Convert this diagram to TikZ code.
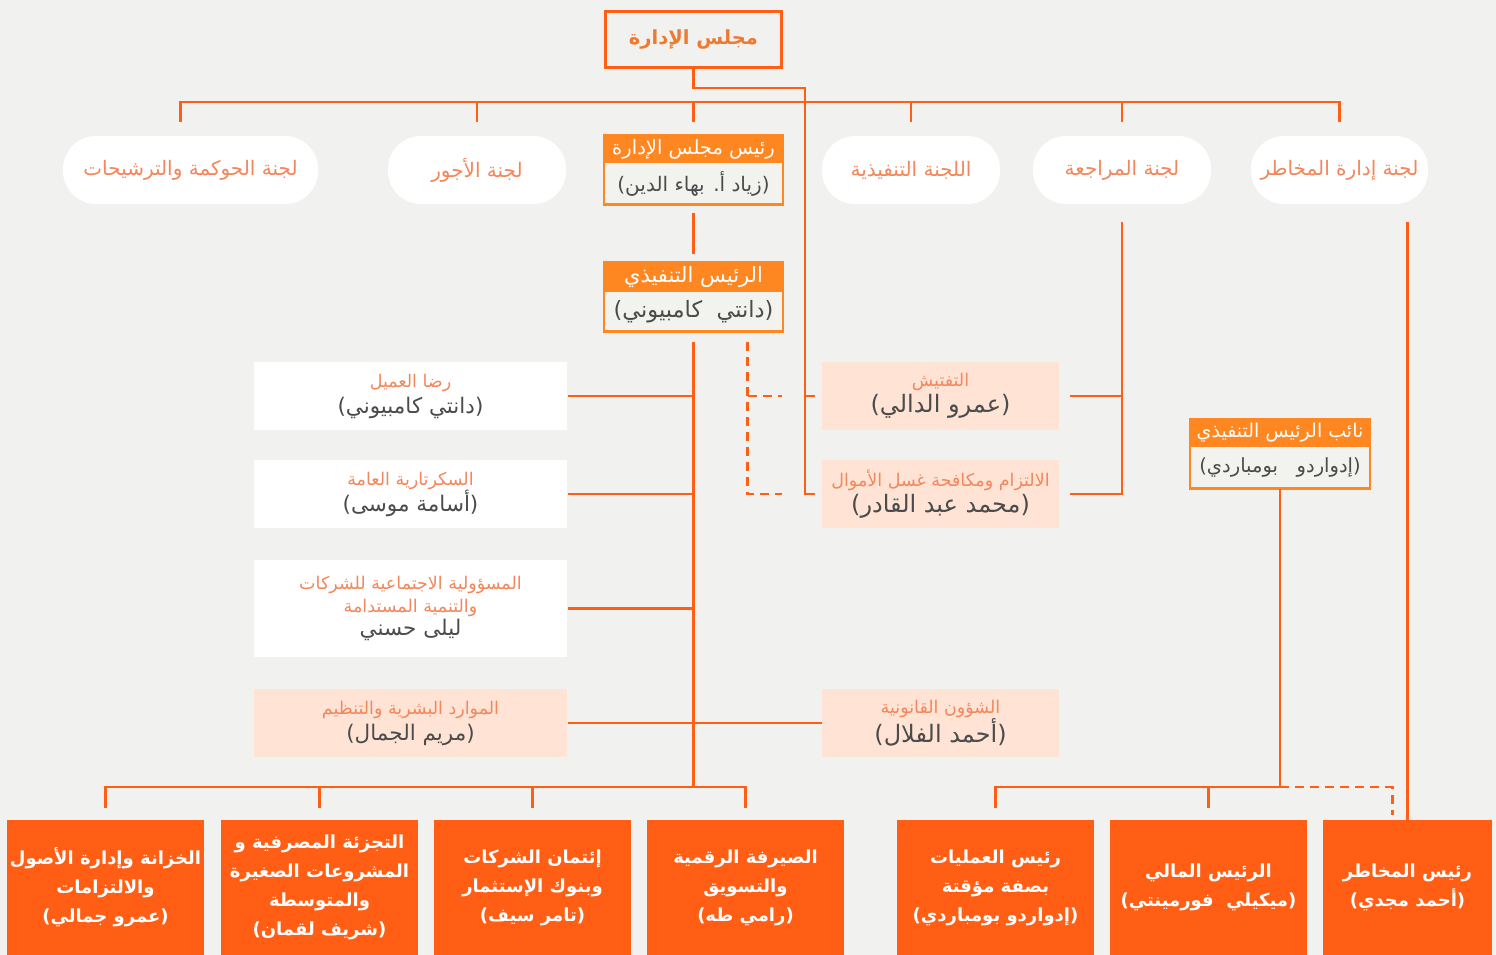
\documentclass[tikz,border=0pt]{standalone}
\usepackage{fontspec}
\usepackage{xcolor}
\usetikzlibrary{positioning}
\TeXXeTstate=1
\newfontfamily\arabicfont[Script=Arabic]{DejaVu Sans}
\newcommand{\rl}[1]{\beginR #1\endR}
\definecolor{bg}{HTML}{F1F2EF}
\definecolor{lineorange}{HTML}{FF5F15}
\definecolor{boxorange}{HTML}{FF5E14}
\definecolor{headorange}{HTML}{FF8721}
\definecolor{salmon}{HTML}{F3865A}
\definecolor{boardtext}{HTML}{EE7A31}
\definecolor{peach}{HTML}{FFE4D6}
\definecolor{darktext}{HTML}{4B4B4B}
\definecolor{bodygrey}{HTML}{F2F2EE}
\newcommand{\unittitle}[1]{{\color{salmon}\fontsize{17.5}{22}\selectfont\rl{#1}}}
\newcommand{\unitname}[1]{{\color{darktext}\fontsize{21.5}{26}\selectfont\rl{#1}}}
\newcommand{\staffname}[1]{{\color{darktext}\fontsize{24}{30}\selectfont\rl{#1}}}

\begin{document}
\begin{tikzpicture}[x=1pt, y=-1pt,
    every node/.style={font=\arabicfont, inner sep=0pt},
    link/.style={draw=lineorange, line width=2.5pt},
    dlink/.style={link, dash pattern=on 9pt off 6pt},
    frame/.style={draw=headorange, line width=2.5pt},
    board/.style={draw=lineorange, line width=3pt, fill=bg, minimum width=176pt, minimum height=56pt,
      text=boardtext, font=\arabicfont\bfseries\fontsize{19.5}{24}\selectfont},
    pill/.style={fill=white, rounded corners=33pt, minimum width=178pt, minimum height=68pt,
      text=salmon, font=\arabicfont\fontsize{20}{24}\selectfont},
    head/.style={fill=headorange, text=white, minimum width=179pt, minimum height=28pt,
      font=\arabicfont\fontsize{19.5}{22}\selectfont},
    body/.style={fill=bodygrey, text=darktext, minimum width=179pt, minimum height=41pt,
      font=\arabicfont\fontsize{20}{24}\selectfont},
    unit/.style={fill=white, minimum width=313pt, minimum height=68pt, align=center,
      font=\arabicfont\fontsize{19}{26}\selectfont},
    staff/.style={unit, fill=peach, minimum width=237pt},
    biz/.style={fill=boxorange, text=white, minimum width=197pt, minimum height=135pt, align=center,
      font=\arabicfont\bfseries\fontsize{18}{29}\selectfont}]

    \fill[bg] (0,0) rectangle (1496,955);

    % Board and committees
    \node[board] (board) at (693.5,39.5) {\rl{مجلس الإدارة}};
    \node[pill, minimum width=255pt] (gov) at (190.5,170) {\rl{لجنة الحوكمة والترشيحات}};
    \node[pill] (rem) at (477,170) {\rl{لجنة الأجور}};
    \node[head] (chairhd) at (693.5,149) {\rl{رئيس مجلس الإدارة}};
    \node[body, below=0pt of chairhd] (chairbd) {\rl{(زياد أ. بهاء الدين)}};
    \node[pill] (exec) at (911,170) {\rl{اللجنة التنفيذية}};
    \node[pill] (audit) at (1122,170) {\raisebox{3pt}{\rl{لجنة المراجعة}}};
    \node[pill, minimum width=177pt] (riskc) at (1339.5,170) {\rl{لجنة إدارة المخاطر}};
    \draw[frame] (chairhd.north west) rectangle (chairbd.south east);

    % CEO and deputy
    \node[head, minimum height=30pt, font=\arabicfont\fontsize{21}{24}\selectfont] (ceohd) at (693.5,277) {\rl{الرئيس التنفيذي}};
    \node[body, minimum height=39pt, below=0pt of ceohd, font=\arabicfont\fontsize{22.5}{26}\selectfont] (ceobd) {\rl{(دانتي\ \ كامبيوني)}};
    \draw[frame] (ceohd.north west) rectangle (ceobd.south east);
    \node[head, minimum width=180pt, font=\arabicfont\fontsize{19}{22}\selectfont] (dephd) at (1280,433) {\rl{نائب الرئيس التنفيذي}};
    \node[body, minimum width=180pt, below=0pt of dephd, font=\arabicfont\fontsize{19.5}{22}\selectfont] (depbd) {\rl{(إدواردو\ \ \ بومباردي)}};
    \draw[frame] (dephd.north west) rectangle (depbd.south east);

    % Units under the CEO
    \node[unit] (cs) at (410.5,396) {\unittitle{رضا العميل}\\\unitname{(دانتي\ كامبيوني)}};
    \node[unit] (sec) at (410.5,494) {\unittitle{السكرتارية العامة}\\\unitname{(أسامة موسى)}};
    \node[unit, minimum height=97pt] (csr) at (410.5,608.5) {\unittitle{المسؤولية الاجتماعية للشركات}\\[-3pt]\unittitle{والتنمية المستدامة}\\[-3pt]\unitname{ليلى حسني}};
    \node[unit, fill=peach] (hr) at (410.5,723) {\unittitle{الموارد البشرية والتنظيم}\\\unitname{(مريم الجمال)}};
    \node[staff] (insp) at (940.5,396) {\unittitle{التفتيش}\\\staffname{(عمرو الدالي)}};
    \node[staff] (comp) at (940.5,494) {\unittitle{الالتزام ومكافحة غسل الأموال}\\\staffname{(محمد عبد القادر)}};
    \node[staff] (legal) at (940.5,723) {\unittitle{الشؤون القانونية}\\\staffname{(أحمد الفلال)}};

    % Business lines
    \node[biz] (treas) at (105.5,887.5) {\rl{الخزانة وإدارة الأصول}\\\rl{والالتزامات}\\\rl{(عمرو جمالي)}};
    \node[biz] (retail) at (319.5,887.5) {\rl{التجزئة المصرفية و}\\\rl{المشروعات الصغيرة}\\\rl{والمتوسطة}\\\rl{(شريف لقمان)}};
    \node[biz] (corp) at (532.5,887.5) {\rl{إئتمان الشركات}\\\rl{وبنوك الإستثمار}\\\rl{(تامر سيف)}};
    \node[biz] (digital) at (745.5,887.5) {\rl{الصيرفة الرقمية}\\\rl{والتسويق}\\\rl{(رامي طه)}};
    \node[biz] (ops) at (995.5,887.5) {\rl{رئيس العمليات}\\\rl{بصفة مؤقتة}\\\rl{(إدواردو بومباردي)}};
    \node[biz] (cfo) at (1208.5,887.5) {\rl{الرئيس المالي}\\\rl{(ميكيلي\ \ فورمينتي)}};
    \node[biz, minimum width=169pt] (cro) at (1407.5,887.5) {\rl{رئيس المخاطر}\\\rl{(أحمد مجدي)}};

    % Levels
    \coordinate (bus) at (0,102);
    \coordinate (jog) at (805,88);
    \coordinate (lvl) at (0,787);

    % Board to committees
    \draw[link] ([xshift=-10pt,yshift=14pt]gov.north) |- (bus -| riskc.north) -- ([yshift=14pt]riskc.north);
    \draw[link] (bus -| rem.north) -- ([yshift=14pt]rem.north);
    \draw[link] (bus -| chairhd.north) -- ([yshift=13pt]chairhd.north);
    \draw[link] (bus -| exec.north) -- ([yshift=14pt]exec.north);
    \draw[link] (bus -| audit.north) -- ([yshift=14pt]audit.north);

    % Board to inspection and compliance
    \draw[link] (board.south) |- (jog) |- ([xshift=-7pt]comp.west);
    \draw[link] (jog |- insp) -- ([xshift=-7pt]insp.west);

    % Chair to CEO
    \draw[link] ([yshift=-8pt]chairbd.south) -- ([yshift=8pt]ceohd.north);

    % CEO spine
    \draw[link] ([yshift=-10pt]ceobd.south) -- (ceobd.south |- lvl);
    \draw[link] (ceobd.south |- cs) -- ([xshift=1pt]cs.east);
    \draw[link] (ceobd.south |- sec) -- ([xshift=1pt]sec.east);
    \draw[link] (ceobd.south |- csr) -- ([xshift=1pt]csr.east);
    \draw[link] ([xshift=1pt]hr.east) -- (legal.west);
    \draw[link] ([yshift=12pt]treas.north) |- (lvl -| digital.north) -- ([yshift=12pt]digital.north);
    \draw[link] (lvl -| retail.north) -- ([yshift=12pt]retail.north);
    \draw[link] (lvl -| corp.north) -- ([yshift=12pt]corp.north);

    % Dotted reporting
    \coordinate (dtop) at ([xshift=54pt,yshift=-10pt]ceobd.south);
    \draw[dlink] (dtop) |- ([xshift=-40pt]comp.west);
    \draw[dlink] (dtop |- insp) -- ([xshift=-40pt]insp.west);

    % Audit committee
    \draw[link] ([yshift=-18pt]audit.south) |- ([xshift=11pt]comp.east);
    \draw[link] (audit.south |- insp) -- ([xshift=11pt]insp.east);

    % Risk committee to CRO
    \coordinate (rtop) at ([yshift=-18pt]riskc.south);
    \draw[link] (rtop -| cro.north) -- (cro.north);

    % Deputy CEO
    \draw[link] (depbd.south) -- (depbd.south |- lvl) -| ([yshift=12pt]ops.north);
    \draw[link] (lvl -| cfo.north) -- ([yshift=12pt]cfo.north);
    \draw[dlink] (depbd.south |- lvl) -| ([xshift=-15pt,yshift=5pt]cro.north);

\end{tikzpicture}
\end{document}
